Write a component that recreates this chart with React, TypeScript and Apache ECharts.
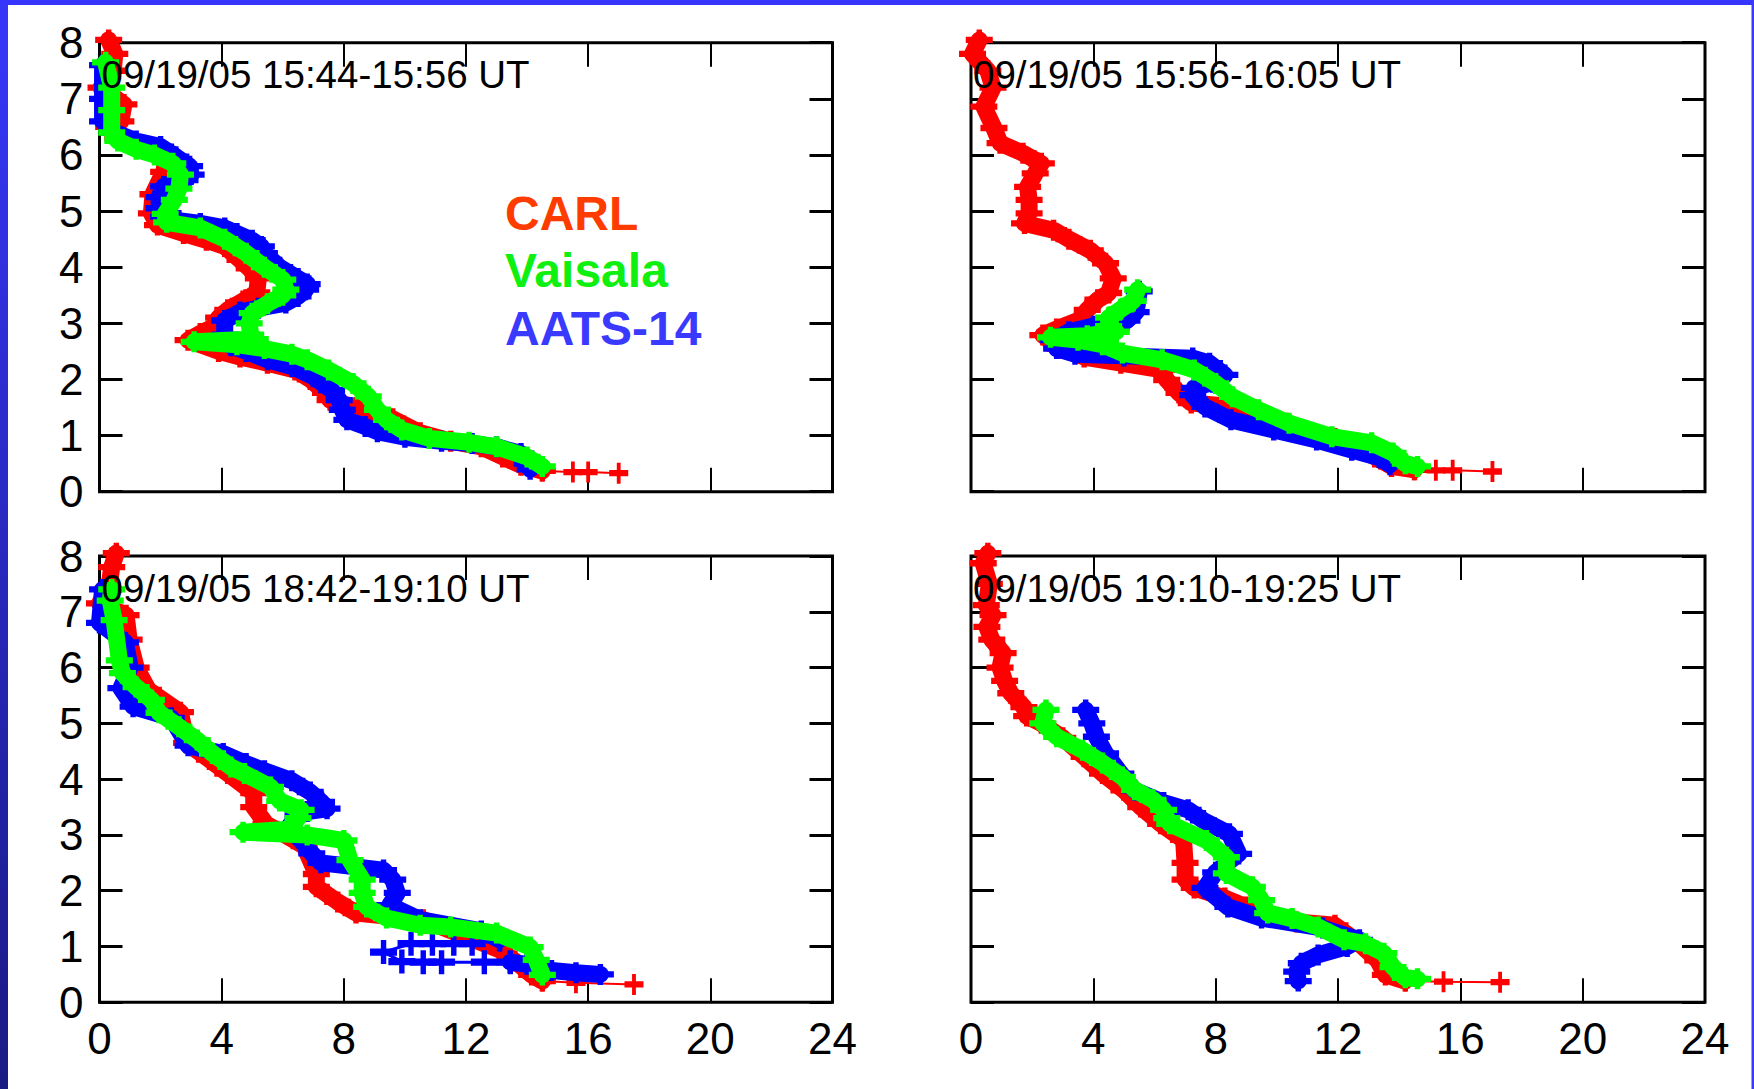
import { useEffect, useRef } from "react";
import * as echarts from "echarts";

// Axis ranges: [min, max, step]
const xRange = [0, 24, 4];
const yRange = [0, 8, 1];

const seriesNames = ["CARL", "Vaisala", "AATS-14"];

const panelTitles = [
  "09/19/05 15:44-15:56 UT",
  "09/19/05 15:56-16:05 UT",
  "09/19/05 18:42-19:10 UT",
  "09/19/05 19:10-19:25 UT",
];

// Each point is [extinction, altitude (km)]
// ---- 15:44-15:56 UT ----
const carlA = [[0.3,8.05],[0.5,7.8],[0.45,7.5],[0.05,7.2],[0.8,6.9],[0.7,6.6],[0.3,6.5],[0.6,6.3],[1.5,6.15],[2.2,5.95],[2.1,5.7],[1.75,5.3],[1.7,4.96],[1.9,4.75],[2.75,4.6],[3.5,4.48],[4.1,4.37],[4.6,4.13],[4.9,3.98],[5.2,3.8],[5.15,3.55],[4.7,3.4],[4.2,3.24],[3.9,3.1],[3.75,2.94],[3.3,2.82],[2.9,2.7],[3.9,2.5],[4.6,2.4],[5.5,2.29],[6.4,2.17],[6.9,2.0],[7.4,1.76],[7.55,1.63],[8.4,1.5],[9.6,1.3],[10.5,1.05],[11.5,0.9],[12.5,0.8],[13.2,0.62],[13.8,0.47],[14.5,0.37]];
const carlTailA = [[14.5,0.37],[15.5,0.35],[16.0,0.35],[17.0,0.33]];
const aatsA = [[0.1,7.6],[0.1,7.0],[0.1,6.6],[0.5,6.4],[1.2,6.25],[2.0,6.15],[2.5,5.97],[2.95,5.8],[3.0,5.65],[2.8,5.55],[2.1,5.44],[1.95,5.25],[1.95,5.05],[2.1,4.9],[2.6,4.83],[3.3,4.78],[4.1,4.7],[4.5,4.6],[5.0,4.48],[5.3,4.37],[5.4,4.25],[5.9,4.0],[6.5,3.8],[6.8,3.7],[6.75,3.6],[6.5,3.48],[6.1,3.36],[5.2,3.27],[4.6,3.2],[4.1,3.05],[4.1,2.8],[4.3,2.6],[4.8,2.5],[5.5,2.35],[6.3,2.23],[7.0,2.05],[7.6,1.81],[7.85,1.63],[7.95,1.46],[8.1,1.28],[8.7,1.16],[9.1,1.07],[10.0,0.97],[11.2,0.9],[12.2,0.86],[13.0,0.8],[13.8,0.68],[14.0,0.5],[14.1,0.4]];
const vaisalaA = [[0.2,7.65],[0.4,7.2],[0.4,6.8],[0.4,6.4],[0.6,6.25],[1.2,6.1],[1.8,6.0],[2.4,5.85],[2.65,5.65],[2.6,5.4],[2.45,5.2],[2.15,4.95],[2.2,4.8],[3.3,4.7],[4.1,4.5],[4.8,4.25],[5.4,4.0],[6.0,3.78],[6.1,3.6],[6.0,3.5],[5.5,3.35],[5.0,3.18],[4.9,3.0],[4.95,2.8],[5.1,2.72],[3.1,2.67],[4.5,2.62],[5.4,2.55],[6.3,2.45],[6.8,2.35],[7.5,2.17],[8.3,1.93],[8.8,1.7],[9.1,1.46],[9.4,1.28],[9.9,1.1],[10.8,0.95],[12.1,0.88],[13.0,0.8],[14.0,0.62],[14.5,0.45]];

// ---- 15:56-16:05 UT ----
const carlB = [[0.27,8.05],[0.05,7.8],[0.55,7.5],[0.72,7.2],[0.42,6.86],[0.75,6.48],[0.95,6.21],[1.7,6.03],[2.3,5.85],[2.1,5.67],[1.85,5.43],[1.9,5.2],[1.9,4.96],[1.75,4.78],[2.7,4.66],[3.2,4.5],[3.9,4.3],[4.4,4.07],[4.65,3.8],[4.5,3.54],[4.15,3.42],[3.8,3.24],[3.55,3.06],[2.8,2.9],[2.35,2.79],[2.9,2.55],[3.7,2.4],[4.9,2.29],[6.25,2.17],[6.4,1.99],[6.8,1.76],[7.2,1.58],[8.5,1.52],[9.1,1.4],[10.3,1.22],[11.9,0.95],[13.2,0.62],[13.75,0.45],[14.5,0.39]];
const carlTailB = [[14.5,0.39],[15.2,0.38],[15.75,0.38],[17.05,0.36]];
const aatsB = [[5.5,3.57],[5.4,3.2],[5.1,3.05],[4.0,2.95],[3.2,2.85],[2.7,2.7],[2.8,2.55],[3.4,2.45],[5.0,2.42],[7.25,2.38],[7.8,2.29],[8.3,2.08],[7.9,1.95],[7.3,1.85],[7.25,1.72],[7.65,1.51],[8.5,1.28],[9.9,1.1],[11.3,0.92],[12.45,0.74],[13.4,0.6],[13.7,0.48]];
const vaisalaB = [[5.45,3.6],[5.3,3.4],[4.9,3.25],[4.5,3.1],[4.5,2.95],[4.75,2.85],[3.8,2.78],[2.6,2.75],[3.5,2.7],[4.3,2.62],[4.95,2.47],[6.25,2.35],[7.3,2.17],[8.0,1.93],[8.55,1.69],[9.4,1.46],[10.4,1.22],[11.8,0.98],[13.1,0.87],[13.8,0.69],[14.2,0.5],[14.6,0.45]];

// ---- 18:42-19:10 UT ----
const carlC = [[0.55,8.05],[0.4,7.8],[0.3,7.4],[0.0,7.15],[0.87,6.94],[0.97,6.5],[1.2,6.0],[1.6,5.6],[2.65,5.2],[2.85,4.65],[3.6,4.35],[4.2,4.1],[5.05,3.75],[5.05,3.5],[5.45,3.2],[6.7,2.8],[7.1,2.3],[7.1,2.07],[7.8,1.8],[8.4,1.6],[10.6,1.48],[11.9,1.2],[13.1,0.94],[13.6,0.74],[14.15,0.49],[14.5,0.38]];
const carlTailC = [[14.5,0.38],[15.6,0.35],[17.5,0.32]];
const aatsC = [[0.1,7.4],[0.0,6.8],[0.85,6.45],[1.0,6.0],[0.7,5.63],[1.1,5.3],[2.35,5.1],[2.9,4.6],[4.05,4.46],[4.8,4.28],[5.4,4.15],[6.3,3.97],[6.9,3.77],[7.27,3.59],[7.45,3.47],[6.8,3.42],[6.5,3.35],[6.2,3.15],[6.95,2.67],[7.25,2.5],[9.3,2.37],[9.6,2.2],[9.75,1.96],[9.5,1.74],[10.5,1.48],[12.5,1.28],[13.1,1.12]];
const aatsLoopC = [[13.1,1.12],[12.2,1.05],[11.6,1.05],[10.9,1.05],[10.2,1.05],[9.3,0.9],[9.9,0.73],[10.6,0.72],[11.2,0.72],[12.6,0.72],[13.45,0.72]];
const aatsLowC = [[13.45,0.72],[14.0,0.68],[14.8,0.57],[15.6,0.53],[16.4,0.5]];
const vaisalaC = [[0.4,7.4],[0.35,7.2],[0.48,6.85],[0.65,6.13],[0.75,5.9],[1.2,5.65],[1.7,5.42],[1.95,5.19],[2.6,4.94],[3.2,4.7],[3.7,4.46],[4.3,4.22],[4.75,4.1],[5.6,3.86],[5.9,3.61],[6.6,3.45],[6.5,3.3],[6.2,3.1],[4.7,3.05],[6.8,3.0],[8.0,2.9],[8.2,2.55],[8.6,2.2],[8.6,1.96],[8.75,1.71],[9.4,1.51],[10.5,1.38],[11.5,1.35],[13.0,1.24],[14.1,0.99],[14.3,0.76],[14.5,0.49]];

// ---- 19:10-19:25 UT ----
const carlD = [[0.55,8.05],[0.4,7.87],[0.6,7.5],[0.5,7.12],[0.72,6.94],[0.52,6.73],[0.68,6.5],[1.05,6.26],[0.95,6.0],[1.1,5.76],[1.3,5.54],[1.73,5.29],[1.82,5.13],[2.3,5.0],[3.0,4.74],[3.7,4.4],[4.3,4.1],[5.0,3.8],[5.55,3.5],[6.2,3.2],[6.95,2.91],[7.0,2.5],[7.0,2.2],[7.3,2.05],[8.3,1.87],[9.0,1.71],[10.65,1.44],[11.9,1.38],[12.6,1.1],[13.3,0.75],[13.55,0.49],[14.2,0.38]];
const carlTailD = [[14.2,0.38],[15.45,0.37],[17.3,0.36]];
const aatsD = [[3.75,5.24],[3.95,5.0],[4.1,4.76],[4.4,4.46],[4.9,4.1],[5.35,3.8],[6.3,3.58],[7.1,3.45],[7.6,3.26],[8.45,3.02],[8.75,2.66],[8.0,2.33],[7.65,2.05],[8.4,1.71],[9.5,1.51],[11.5,1.33],[12.7,1.12],[12.3,1.0],[11.35,0.85],[10.8,0.7],[10.65,0.55],[10.7,0.38]];
const vaisalaD = [[2.45,5.24],[2.35,5.0],[2.8,4.76],[3.65,4.52],[4.3,4.29],[4.95,4.04],[5.35,3.81],[5.95,3.63],[6.3,3.45],[6.4,3.3],[6.5,3.2],[7.7,2.9],[8.35,2.6],[8.35,2.31],[9.2,2.07],[9.5,1.83],[9.7,1.6],[10.5,1.5],[11.35,1.35],[12.2,1.12],[12.9,1.05],[13.5,0.88],[13.8,0.63],[14.2,0.44],[14.6,0.42]];

const panels = [
  { title: panelTitles[0], carl: carlA, carlTail: carlTailA, aats: [aatsA], aatsThin: [], vaisala: vaisalaA },
  { title: panelTitles[1], carl: carlB, carlTail: carlTailB, aats: [aatsB], aatsThin: [], vaisala: vaisalaB },
  { title: panelTitles[2], carl: carlC, carlTail: carlTailC, aats: [aatsC, aatsLowC], aatsThin: [aatsLoopC], vaisala: vaisalaC },
  { title: panelTitles[3], carl: carlD, carlTail: carlTailD, aats: [aatsD], aatsThin: [], vaisala: vaisalaD },
];

const COLORS = { carl: "#ff0000", vaisala: "#00ff00", aats: "#0000ff" };
const LEGEND_COLORS = ["#ff3c00", "#10f010", "#3a3aff"];

// Plus-shaped marker with error-bar arms
const CROSS = "path://M8,0H12V7H20V13H12V20H8V13H0V7H8Z";

const GRIDS = [
  { left: 99.5, top: 42.7, width: 733, height: 449 },
  { left: 971, top: 42.7, width: 734, height: 449 },
  { left: 99.5, top: 556, width: 733, height: 446.3 },
  { left: 971, top: 556, width: 734, height: 446.3 },
];

const AXIS_FONT = '"Liberation Sans", Arial, sans-serif';

function buildOption() {
  const grid: any[] = [];
  const xAxis: any[] = [];
  const yAxis: any[] = [];
  const series: any[] = [];
  const graphic: any[] = [];

  panels.forEach((p, i) => {
    const g = GRIDS[i];
    const isBottom = i >= 2;
    const isLeft = i % 2 === 0;
    grid.push({ ...g, show: true, borderColor: "#000", borderWidth: 3, backgroundColor: "transparent" });

    const xBase = {
      type: "value", gridIndex: i, min: xRange[0], max: xRange[1], interval: xRange[2],
      splitLine: { show: false }, axisLine: { show: false, onZero: false },
      axisTick: { show: true, inside: true, length: 24, lineStyle: { color: "#000", width: 2 } },
    };
    xAxis.push({
      ...xBase, position: "bottom",
      axisLabel: { show: isBottom, color: "#000", fontSize: 44, fontFamily: AXIS_FONT, margin: 14 },
    });
    xAxis.push({ ...xBase, position: "top", axisLabel: { show: false } });

    const yBase = {
      type: "value", gridIndex: i, min: yRange[0], max: yRange[1], interval: yRange[2],
      splitLine: { show: false }, axisLine: { show: false, onZero: false },
      axisTick: { show: true, inside: true, length: 23, lineStyle: { color: "#000", width: 3 } },
    };
    yAxis.push({
      ...yBase, position: "left",
      axisLabel: { show: isLeft, color: "#000", fontSize: 44, fontFamily: AXIS_FONT, margin: 16 },
    });
    yAxis.push({ ...yBase, position: "right", axisLabel: { show: false } });

    const ax = { xAxisIndex: 2 * i, yAxisIndex: 2 * i };
    const band = (name: string, data: number[][], color: string, z: number) => ({
      type: "line", name, data, ...ax, z, clip: false,
      lineStyle: { color, width: 17, join: "round", cap: "round" },
      showSymbol: true, showAllSymbol: true, symbol: CROSS, symbolSize: [27, 21],
      itemStyle: { color }, emphasis: { disabled: true }, silent: true,
    });
    const thin = (name: string, data: number[][], color: string, z: number, size: number[], width: number) => ({
      type: "line", name, data, ...ax, z, clip: false,
      lineStyle: { color, width },
      showSymbol: true, showAllSymbol: true, symbol: CROSS, symbolSize: size,
      itemStyle: { color }, emphasis: { disabled: true }, silent: true,
    });

    series.push(thin(seriesNames[0], p.carlTail, COLORS.carl, 2, [19, 21], 2));
    series.push(band(seriesNames[0], p.carl, COLORS.carl, 2));
    p.aatsThin.forEach((d) => series.push(thin(seriesNames[2], d, COLORS.aats, 3, [27, 24], 3)));
    p.aats.forEach((d) => series.push(band(seriesNames[2], d, COLORS.aats, 3)));
    series.push(band(seriesNames[1], p.vaisala, COLORS.vaisala, 4));

    graphic.push({
      type: "text", x: g.left + 2, y: g.top + 32, z: 100,
      style: { text: p.title, fill: "#000", font: `38.5px ${AXIS_FONT}`, align: "left", verticalAlign: "middle" },
    });
  });

  // Series key in the first panel
  seriesNames.forEach((name, k) => {
    graphic.push({
      type: "text", x: 505, y: 213 + k * 57.5, z: 100,
      style: { text: name, fill: LEGEND_COLORS[k], font: `bold 48px ${AXIS_FONT}`, align: "left", verticalAlign: "middle" },
    });
  });

  // Slide frame
  graphic.push({
    type: "rect", shape: { x: 0, y: 0, width: 8, height: 1089 }, z: 90,
    style: { fill: new echarts.graphic.LinearGradient(0, 0, 0, 1, [{ offset: 0, color: "#3737fa" }, { offset: 1, color: "#1b1a84" }]) },
  });
  graphic.push({ type: "rect", shape: { x: 0, y: 0, width: 1754, height: 5 }, z: 90, style: { fill: "#3535fd" } });
  graphic.push({ type: "rect", shape: { x: 1751.5, y: 0, width: 2.5, height: 1089 }, z: 90, style: { fill: "#3a3af8" } });

  return { animation: false, backgroundColor: "#ffffff", grid, xAxis, yAxis, series, graphic };
}

export default function App() {
  const ref = useRef<HTMLDivElement>(null);
  useEffect(() => {
    document.body.style.margin = "0";
    const chart = echarts.init(ref.current!, undefined, { renderer: "svg" });
    chart.setOption(buildOption() as any);
    return () => chart.dispose();
  }, []);
  return (
    <div
      ref={ref}
      style={{ position: "fixed", left: 0, top: 0, width: 1754, height: 1089, background: "#fff" }}
    />
  );
}
